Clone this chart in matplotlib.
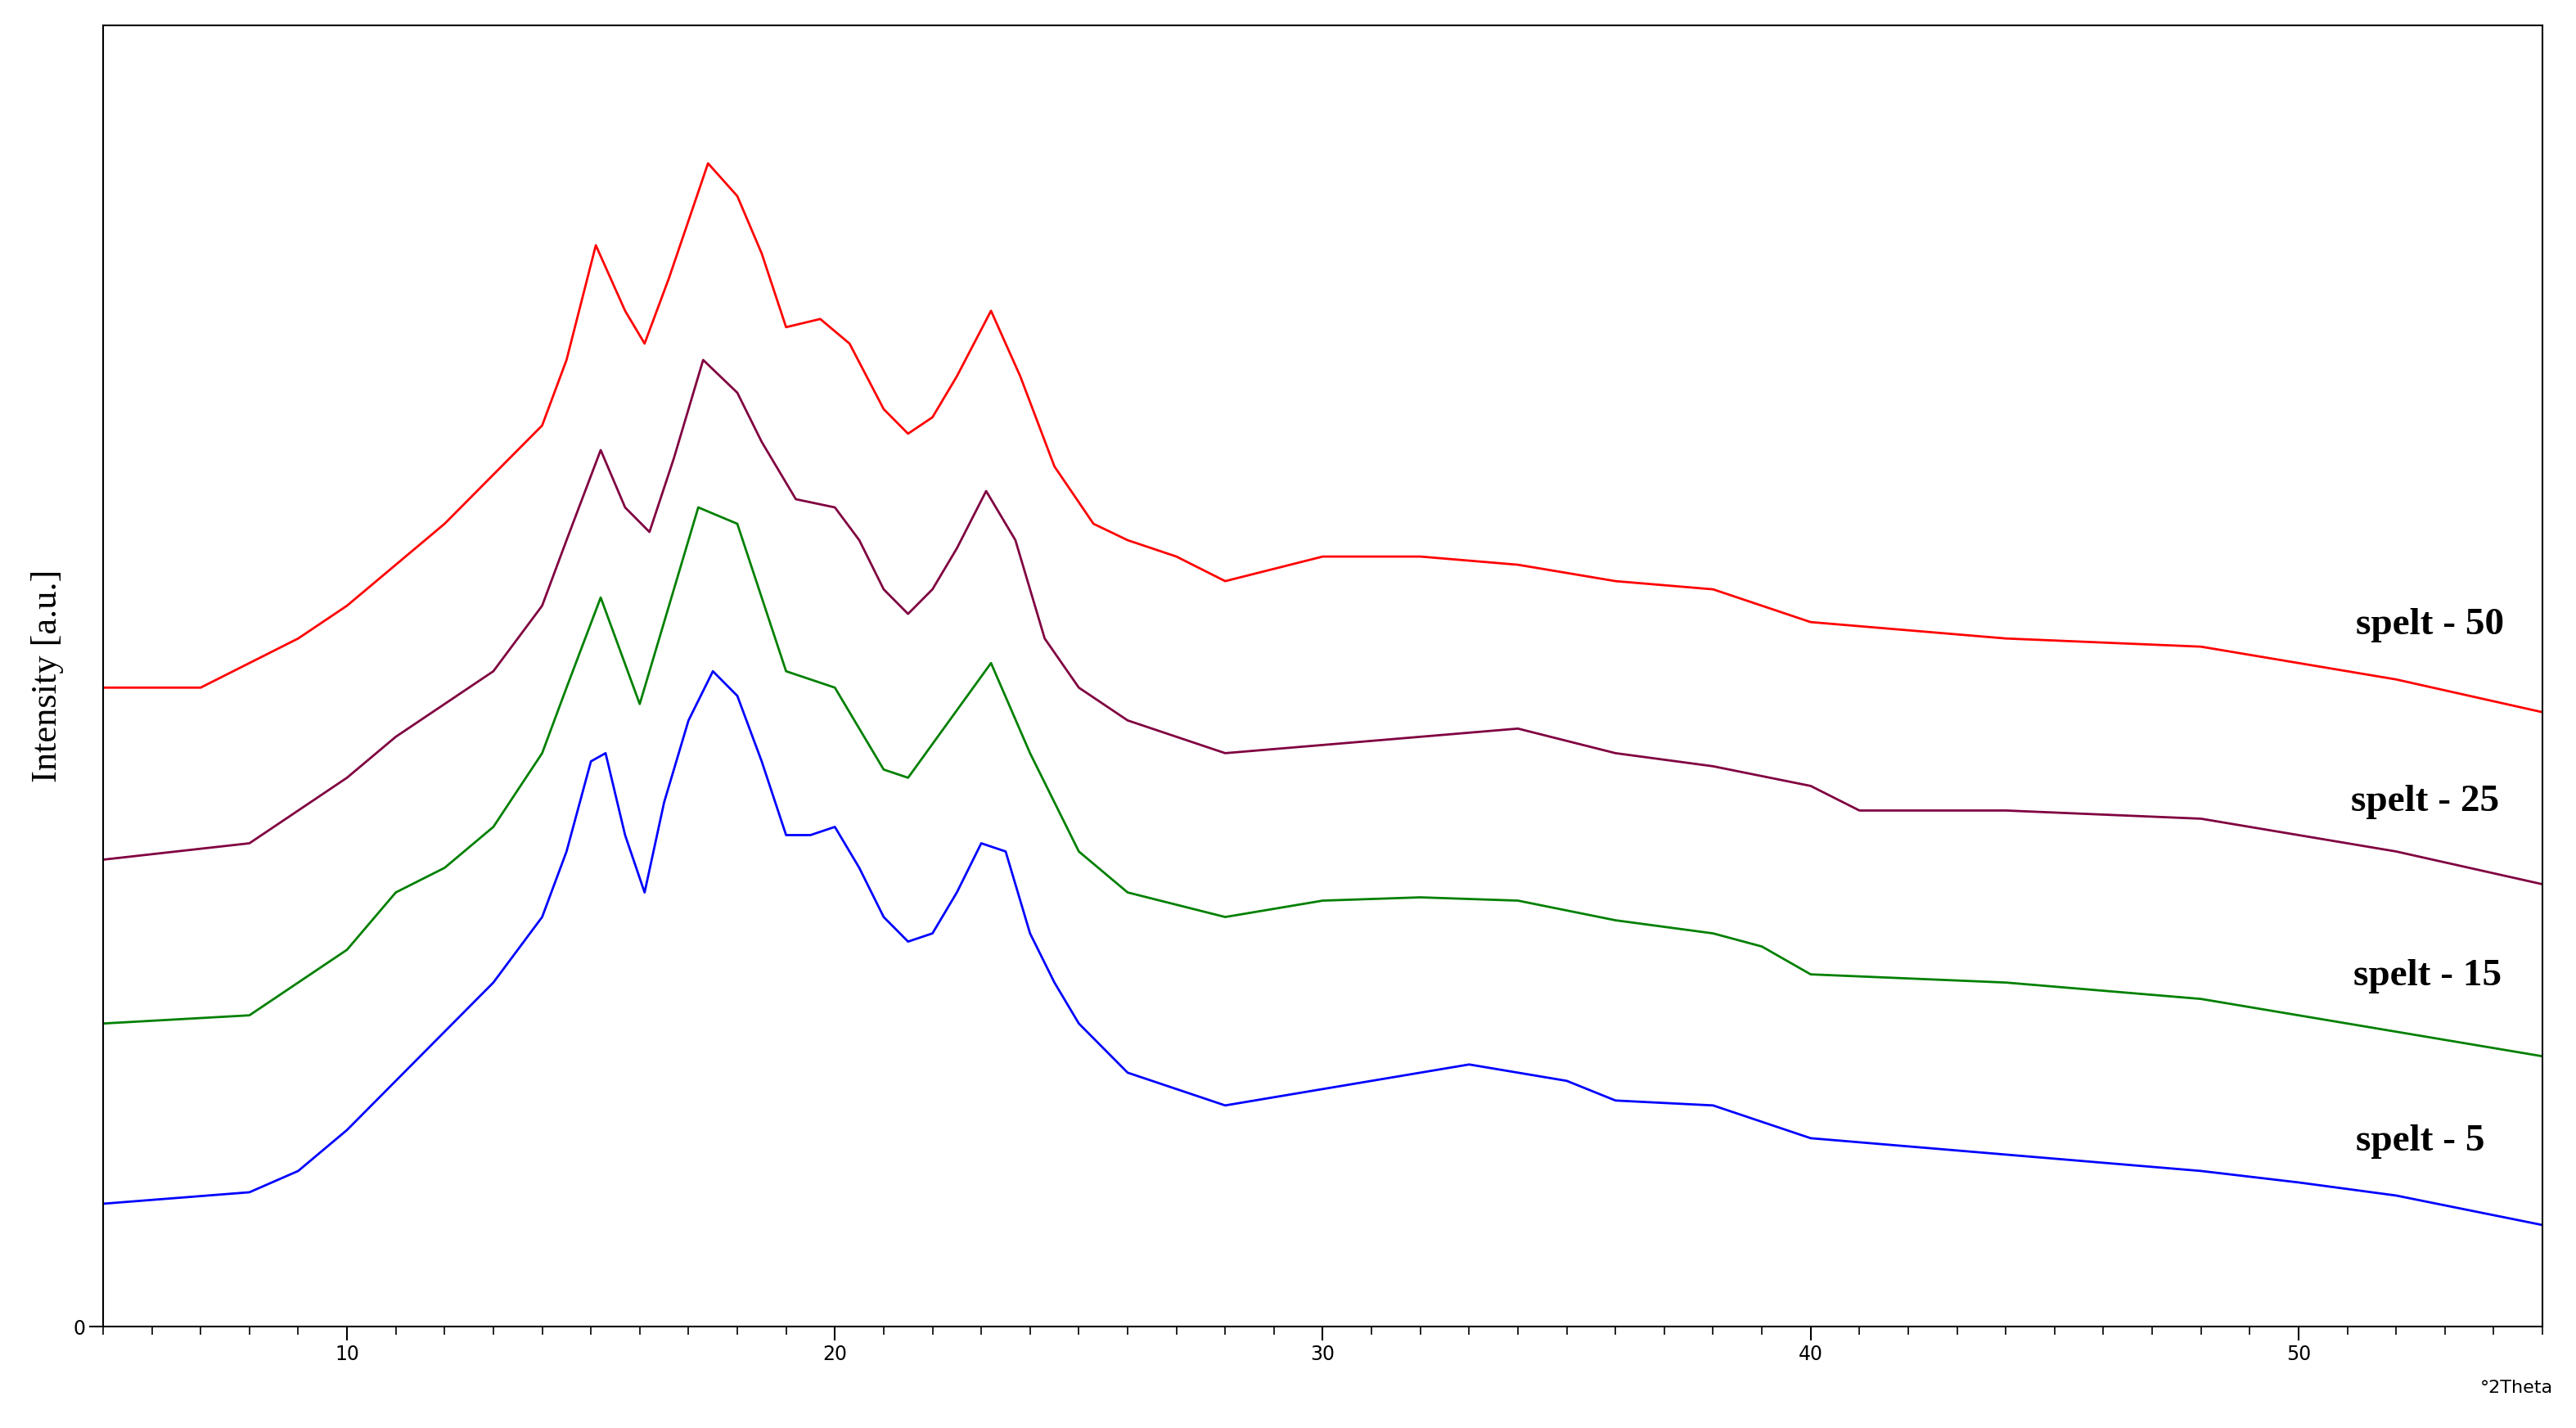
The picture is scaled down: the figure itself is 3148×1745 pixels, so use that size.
import matplotlib
matplotlib.use("Agg")
import matplotlib.pyplot as plt
import numpy as np

x5 = [5,8,9,10,11,12,13,14,14.5,15,15.3,15.7,16.1,16.5,17,17.5,18,18.5,19,19.5,20,20.5,21,21.5,22,22.5,23,23.5,24,24.5,25,26,27,28,30,32,33,35,36,38,39,40,42,44,46,48,50,52,55]
y5 = [75,82,95,120,150,180,210,250,290,345,350,300,265,320,370,400,385,345,300,300,305,280,250,235,240,265,295,290,240,210,185,155,145,135,145,155,160,150,138,135,125,115,110,105,100,95,88,80,62]

x15 = [5,8,9,10,11,12,13,14,14.5,15.2,16,17.2,18,19,20,21,21.5,23.2,24,25,26,28,30,32,34,36,38,39,40,44,48,52,55]
y15 = [185,190,210,230,265,280,305,350,390,445,380,500,490,400,390,340,335,405,350,290,265,250,260,262,260,248,240,232,215,210,200,180,165]

x25 = [5,8,9,10,11,12,13,14,14.5,15.2,15.7,16.2,16.7,17.3,18,18.5,19.2,20,20.5,21,21.5,22,22.5,23.1,23.7,24.3,25,26,27,28,30,32,34,36,38,40,41,44,48,52,55]
y25 = [285,295,315,335,360,380,400,440,480,535,500,485,530,590,570,540,505,500,480,450,435,450,475,510,480,420,390,370,360,350,355,360,365,350,342,330,315,315,310,290,270]

x50 = [5,7,8,9,10,11,12,13,14,14.5,15.1,15.7,16.1,16.6,17.4,18,18.5,19,19.7,20.3,21,21.5,22,22.5,23.2,23.8,24.5,25.3,26,27,28,30,32,34,36,38,39,40,44,48,52,55]
y50 = [390,390,405,420,440,465,490,520,550,590,660,620,600,640,710,690,655,610,615,600,560,545,555,580,620,580,525,490,480,470,455,470,470,465,455,450,440,430,420,415,395,375]

labels = ["spelt - 50", "spelt - 25", "spelt - 15", "spelt - 5"]
label_pos = [(52.7, 428), (52.6, 320), (52.65, 214), (52.5, 113)]
series = [(x50, y50, "#ff0000"), (x25, y25, "#800040"), (x15, y15, "#008000"), (x5, y5, "#0000ff")]

fig = plt.figure(figsize=(31.48, 17.45), dpi=100)
ax = fig.add_axes([0.040, 0.071, 0.947, 0.911])
for (xs, ys, c) in series:
    ax.plot(xs, ys, color=c, lw=2)
for lab, (lx, ly) in zip(labels, label_pos):
    ax.text(lx, ly, lab, family="Liberation Serif", fontweight="bold", fontsize=34, ha="center", va="center")

ax.set_xlim(5, 55)
ax.set_ylim(0, 794)
ax.set_xticks([10, 20, 30, 40, 50])
ax.set_xticks(np.arange(5, 56, 1), minor=True)
ax.set_yticks([0])
ax.tick_params(axis="both", which="major", labelsize=17, length=12, width=1.5)
ax.tick_params(axis="x", which="minor", length=7, width=1.2)
for s in ax.spines.values():
    s.set_linewidth(1.5)
ax.set_ylabel("Intensity [a.u.]", family="Liberation Serif", fontsize=32)
ax.yaxis.set_label_coords(-0.016, 0.5)
fig.text(0.991, 0.028, "°2Theta", ha="right", va="center", fontsize=16)
fig.savefig("out.png", dpi=100)
